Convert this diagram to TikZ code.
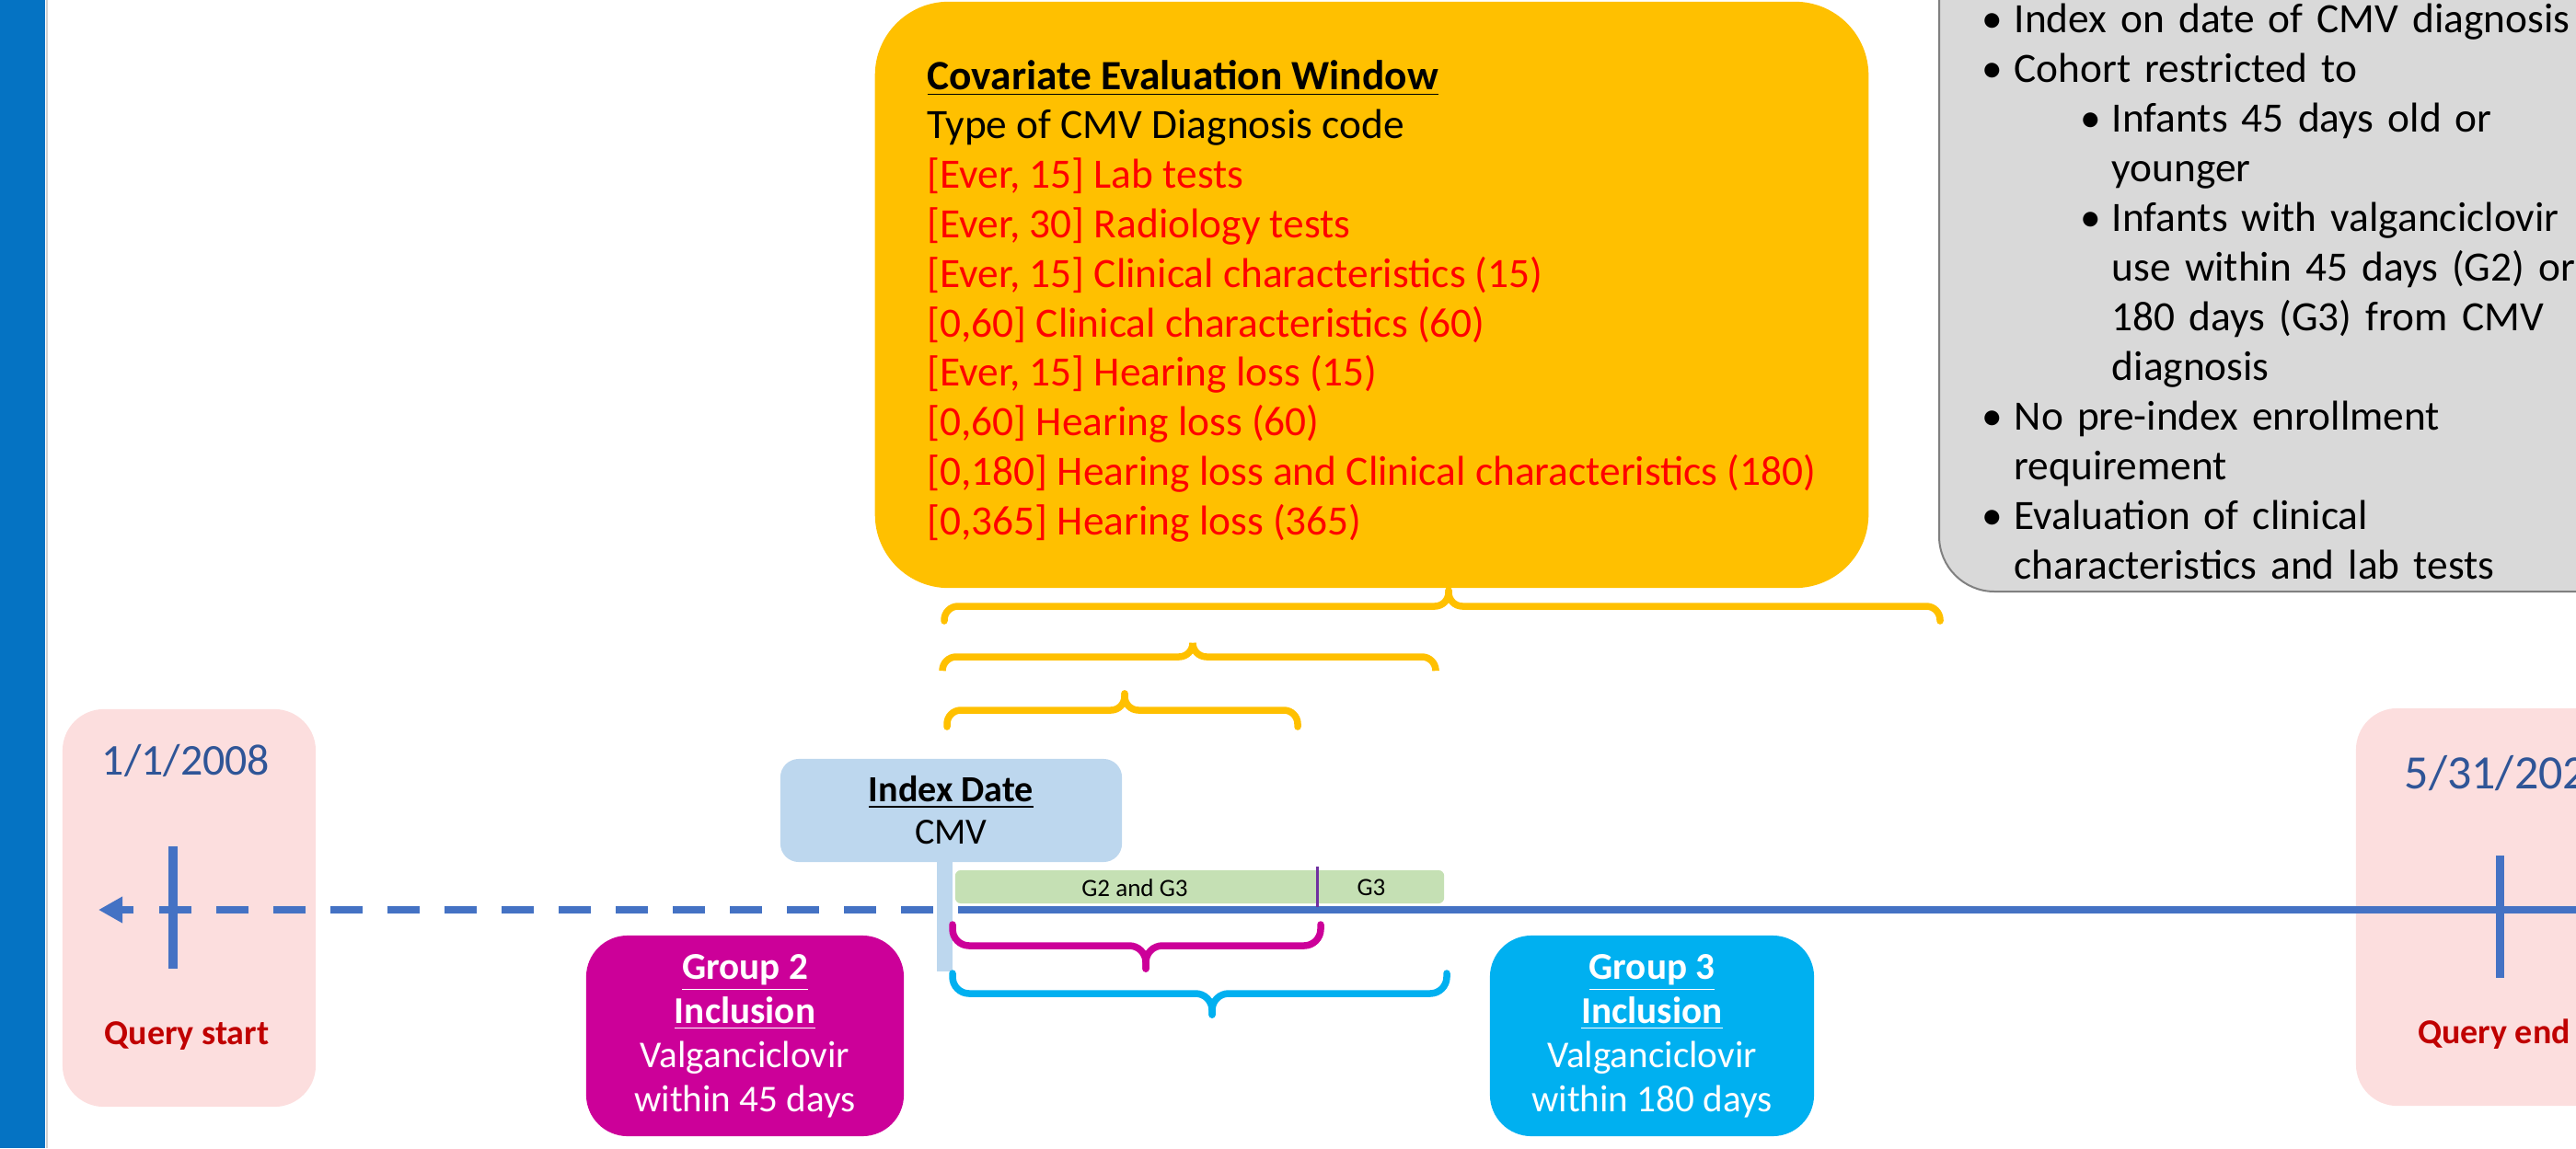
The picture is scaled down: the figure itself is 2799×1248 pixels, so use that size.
\documentclass[tikz,border=0pt]{standalone}
\usepackage{fontspec}
\setmainfont{Carlito}
\usetikzlibrary{arrows.meta,positioning}
\definecolor{tlblue}{RGB}{68,114,196}
\definecolor{tldate}{RGB}{47,85,151}
\definecolor{tlred}{RGB}{192,0,0}
\definecolor{tlpink}{RGB}{252,222,222}
\definecolor{idxblue}{RGB}{189,215,238}
\definecolor{wingreen}{RGB}{197,224,180}
\definecolor{winpurple}{RGB}{112,48,160}
\definecolor{gtwomag}{RGB}{204,0,153}
\definecolor{gthreecyan}{RGB}{0,176,240}
\definecolor{covyellow}{RGB}{255,192,0}
\definecolor{covred}{RGB}{255,0,0}
\definecolor{notegray}{RGB}{217,217,217}
\definecolor{stripeblue}{RGB}{5,115,195}

\begin{document}
\begin{tikzpicture}[x=0.01cm, y=-0.01cm,
        qbox/.style={rectangle, rounded corners=0.45cm, fill=tlpink,
                     minimum width=2.75cm, minimum height=4.32cm},
        datetxt/.style={font=\fontsize{13.6}{16}\selectfont, text=tldate, inner sep=0pt},
        qtxt/.style={font=\fontsize{10.8}{13}\selectfont\bfseries, text=tlred, inner sep=0pt},
        tline/.style={tlblue, line width=0.08cm},
        qtick/.style={tlblue, line width=0.09cm},
        grpbox/.style={rectangle, rounded corners=0.45cm, text=white, align=center,
                       minimum height=2.18cm, inner sep=0pt,
                       font=\fontsize{11.7}{13.66}\selectfont},
        brc/.style={line width=0.075cm, line cap=round, rounded corners=0.18cm},
        ybrc/.style={brc, covyellow, rounded corners=0.15cm}
      ]
        \useasboundingbox (0,0) rectangle (2799,1248);
        \clip (0,0) rectangle (2799,1248);

        % side stripe
        \fill[stripeblue] (0,0) rectangle (49,1248);
        \draw[gray!35, line width=0.025cm] (51,0) -- (51,1248);

        % query period boxes
        \node[qbox] (qsbox) at (205.5,987) {};
        \node[qbox, minimum width=3.1cm] (qebox) at (2715,986) {};
        \node[datetxt] (d1) at (202,827) {1/1/2008};
        \node[datetxt, font=\fontsize{14.8}{17}\selectfont, anchor=west] (d2) at (2612,841) {5/31/202};
        \node[qtxt] (qs) at (203,1126) {Query start};
        \node[qtxt] (qe) at (2710,1124) {Query end};

        % timeline
        \coordinate (past) at (107,989);
        \coordinate (idxl) at (1014,989);
        \coordinate (idxr) at (1041,989);
        \coordinate (future) at (2820,989);
        \draw[tline, dash pattern=on 0.35cm off 0.27cm,
              -{Triangle[length=0.26cm, width=0.27cm]}] (idxl) -- (past);
        \draw[tline] (idxr) -- (future);
        \draw[qtick] (188,920) -- (188,1053);
        \draw[qtick] (2716,930) -- (2716,1063);

        % index date
        \fill[idxblue] (1018,930) rectangle (1035,1056);
        \node[rectangle, rounded corners=0.2cm, fill=idxblue, minimum width=3.71cm,
              minimum height=1.12cm, align=center, inner sep=0pt,
              font=\fontsize{11.4}{13.1}\selectfont] (idx) at (1033.5,881)
              {\textbf{\underline{Index Date}}\\CMV};

        % exposure window
        \node[rectangle, rounded corners=0.06cm, fill=wingreen, minimum width=5.31cm,
              minimum height=0.36cm, inner sep=0pt] (win) at (1303.5,964) {};
        \node[font=\fontsize{7.7}{9}\selectfont, inner sep=0pt] (g23) at (1233,965) {G2 and G3};
        \node[font=\fontsize{7.7}{9}\selectfont, inner sep=0pt] (g3) at (1490,965) {G3};
        \draw[winpurple, line width=0.03cm] (1431,942) -- (1431,986);

        % braces below the line
        \draw[brc, gtwomag] (1035,1005) |- (1245,1028) -- (1245,1053);
        \draw[brc, gtwomag] (1435,1005) |- (1245,1028) -- (1245,1053);
        \draw[brc, gthreecyan] (1035,1058) |- (1317,1080) -- (1317,1103);
        \draw[brc, gthreecyan] (1572,1058) |- (1317,1080) -- (1317,1103);

        % braces above the line
        \draw[ybrc] (1029,790) |- (1222,772) -- (1222,754);
        \draw[ybrc] (1410,790) |- (1222,772) -- (1222,754);
        \draw[ybrc] (1024,728) |- (1296,714) -- (1296,700);
        \draw[ybrc] (1560,728) |- (1296,714) -- (1296,700);
        \draw[ybrc] (1026,675) |- (1574,659) -- (1574,642);
        \draw[ybrc] (2108,675) |- (1574,659) -- (1574,642);

        % inclusion groups
        \node[grpbox, fill=gtwomag, minimum width=3.45cm] (g2) at (809.5,1126)
              {\textbf{\underline{Group 2}}\\\textbf{\underline{Inclusion}}\\Valganciclovir\\within 45 days};
        \node[grpbox, fill=gthreecyan, minimum width=3.52cm] (g3box) at (1795,1126)
              {\textbf{\underline{Group 3}}\\\textbf{\underline{Inclusion}}\\Valganciclovir\\within 180 days};

        % covariate window
        \node[rectangle, rounded corners=0.8cm, fill=covyellow, minimum height=6.37cm,
              minimum width=10.79cm, inner sep=0pt, align=left,
              font=\fontsize{12.9}{15.3}\selectfont] (cov) at (1490.5,320.5)
              {\rule{0pt}{0.45cm}\textbf{\underline{Covariate Evaluation Window}}\\
               Type of CMV Diagnosis code\\
               \textcolor{covred}{[Ever, 15] Lab tests}\\
               \textcolor{covred}{[Ever, 30] Radiology tests}\\
               \textcolor{covred}{[Ever, 15] Clinical characteristics (15)}\\
               \textcolor{covred}{[0,60] Clinical characteristics (60)}\\
               \textcolor{covred}{[Ever, 15] Hearing loss (15)}\\
               \textcolor{covred}{[0,60] Hearing loss (60)}\\
               \textcolor{covred}{[0,180] Hearing loss and Clinical characteristics (180)}\\
               \textcolor{covred}{[0,365] Hearing loss (365)}};

        % cohort notes
        \draw[fill=notegray, draw=gray, line width=0.02cm, rounded corners=0.6cm]
              (2107,-100) rectangle (2950,643);
        \node[anchor=north west, text width=7.5cm, align=left, inner sep=0pt,
              font=\fontsize{12.9}{15.36}\selectfont] (notes) at (2153,3)
              {\makebox[0.35cm][l]{\textbullet}Index on date of CMV diagnosis\\
               \makebox[0.35cm][l]{\textbullet}Cohort restricted to\\
               \hspace*{1.07cm}\makebox[0.34cm][l]{\textbullet}Infants 45 days old or\\
               \hspace*{1.41cm}younger\\
               \hspace*{1.07cm}\makebox[0.34cm][l]{\textbullet}Infants with valganciclovir\\
               \hspace*{1.41cm}use within 45 days (G2) or\\
               \hspace*{1.41cm}180 days (G3) from CMV\\
               \hspace*{1.41cm}diagnosis\\
               \makebox[0.35cm][l]{\textbullet}No pre-index enrollment\\
               \hspace*{0.35cm}requirement\\
               \makebox[0.35cm][l]{\textbullet}Evaluation of clinical\\
               \hspace*{0.35cm}characteristics and lab tests};
      \end{tikzpicture}
\end{document}
